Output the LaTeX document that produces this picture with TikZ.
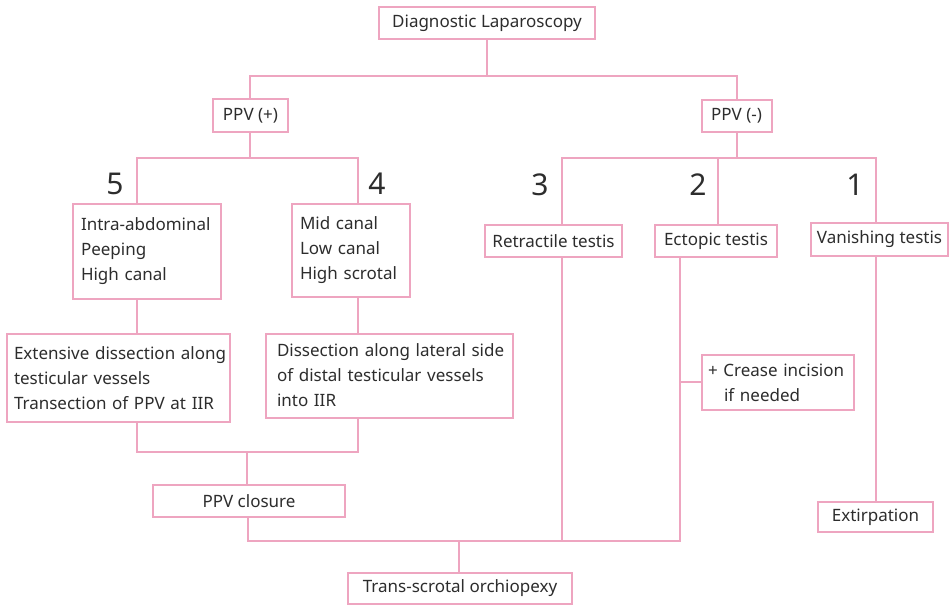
\documentclass[tikz,border=0pt]{standalone}
\usepackage{fontspec}
\setmainfont{Noto Sans}
\usetikzlibrary{calc}
\hyphenpenalty=10000
\exhyphenpenalty=10000
\hbadness=10000
\hfuzz=100pt
\definecolor{pinkline}{RGB}{238,165,192}
\definecolor{txt}{RGB}{45,45,45}
\tikzset{
  box/.style={draw=pinkline, line width=2pt, fill=white, rectangle, inner sep=0pt,
    text=txt, font=\fontsize{17}{25}\selectfont},
  lbox/.style={box, align=left},
  num/.style={text=txt, font=\fontsize{30}{30}\selectfont, inner sep=0pt},
  conn/.style={draw=pinkline, line width=2pt, line cap=rect},
}
\begin{document}
\begin{tikzpicture}[x=1pt,y=-1pt]
\useasboundingbox (0,0) rectangle (949,605);
% connectors first (behind boxes)
\coordinate (top) at (487,23);
\coordinate (tL) at (250,76);
\coordinate (tR) at (737,76);
\coordinate (a5) at (137,158);
\coordinate (a4) at (358,158);
\coordinate (b5) at (137,452);
\coordinate (b4) at (358,452);
\coordinate (bm) at (247,452);
\coordinate (c1) at (248,541);
\coordinate (c2) at (680,541);
\coordinate (c3) at (562,541);
\coordinate (cm) at (459,541);
\coordinate (r3) at (562,158);
\coordinate (r2) at (718,158);
\coordinate (r1) at (876,158);
\coordinate (cr) at (680,382);
\coordinate (ppvpc) at (250,116);
\coordinate (ppvmc) at (737,116);
\coordinate (e5) at (137,378);
\coordinate (e4) at (358,376);
\coordinate (pc) at (248,501);
\coordinate (tc) at (459,589);
\coordinate (rc) at (562,241);
\coordinate (ec) at (680,241);
\coordinate (ec2) at (718,241);
\coordinate (xc) at (876,517);
\coordinate (crc) at (778,382);

\draw[conn] (top) -- (top |- tL);
\draw[conn] (ppvpc) -- (tL) -- (tR) -- (ppvmc);
\draw[conn] (ppvpc) -- (ppvpc |- a5);
\draw[conn] (e5) -- (a5) -- (a4) -- (e4);
\draw[conn] (e5) -- (b5) -- (b4) -- (e4);
\draw[conn] (bm) -- (bm |- pc);
\draw[conn] (pc) -- (c1) -- (c2) -- (ec);
\draw[conn] (cm) -- (tc);
\draw[conn] (c3) -- (rc);
\draw[conn] (ppvmc) -- (ppvmc |- r3);
\draw[conn] (rc) -- (r3) -- (r1) -- (xc);
\draw[conn] (r2) -- (ec2);
\draw[conn] (cr) -- (crc);

% boxes
\node[box, minimum width=216pt, minimum height=32pt] (diag) at (487,23) {Diagnostic Laparoscopy};
\node[box, minimum width=75pt, minimum height=33pt] (ppvp) at (250.5,115.5) {PPV (+)};
\node[box, minimum width=70pt, minimum height=32pt] (ppvm) at (736.5,115.5) {PPV (-)};

\node[lbox, text width=132pt, minimum width=148pt, minimum height=95pt] (box5) at (147,251.5) {\mbox{Intra-abdominal}\\\mbox{Peeping}\\\mbox{High canal}};
\node[lbox, text width=102pt, minimum width=118pt, minimum height=93pt] (box4) at (351,250.5) {\mbox{Mid canal}\\\mbox{Low canal}\\\mbox{High scrotal}};

\node[lbox, text width=209pt, minimum width=223pt, minimum height=88pt] (ext) at (118.5,378) {\mbox{Extensive dissection along}\\\mbox{testicular vessels}\\\mbox{Transection of PPV at IIR}};
\node[lbox, text width=225pt, minimum width=247pt, minimum height=84pt] (dis) at (389.5,375.5) {\mbox{Dissection along lateral side}\\\mbox{of distal testicular vessels}\\\mbox{into IIR}};

\node[box, minimum width=192pt, minimum height=32pt] (closure) at (249,501) {PPV closure};
\node[box, minimum width=224pt, minimum height=31pt] (trans) at (460,588.5) {Trans-scrotal orchiopexy};

\node[box, minimum width=137pt, minimum height=32pt] (retr) at (553.5,241) {Retractile testis};
\node[box, minimum width=122pt, minimum height=32pt] (ecto) at (716,241) {Ectopic testis};
\node[box, minimum width=137pt, minimum height=33pt] (vani) at (879.5,239.5) {Vanishing testis};
\node[lbox, text width=140pt, minimum width=152pt, minimum height=55pt] (crease) at (778,382.5) {\mbox{+ Crease incision}\\\hspace*{16pt}if needed};
\node[box, minimum width=115pt, minimum height=30pt] (extir) at (875.5,517) {Extirpation};

% numbers
\node[num] (n5) at (115,184) {5};
\node[num] (n4) at (377,184) {4};
\node[num] (n3) at (540,185) {3};
\node[num] (n2) at (698,185) {2};
\node[num] (n1) at (855,185) {1};
\end{tikzpicture}
\end{document}
